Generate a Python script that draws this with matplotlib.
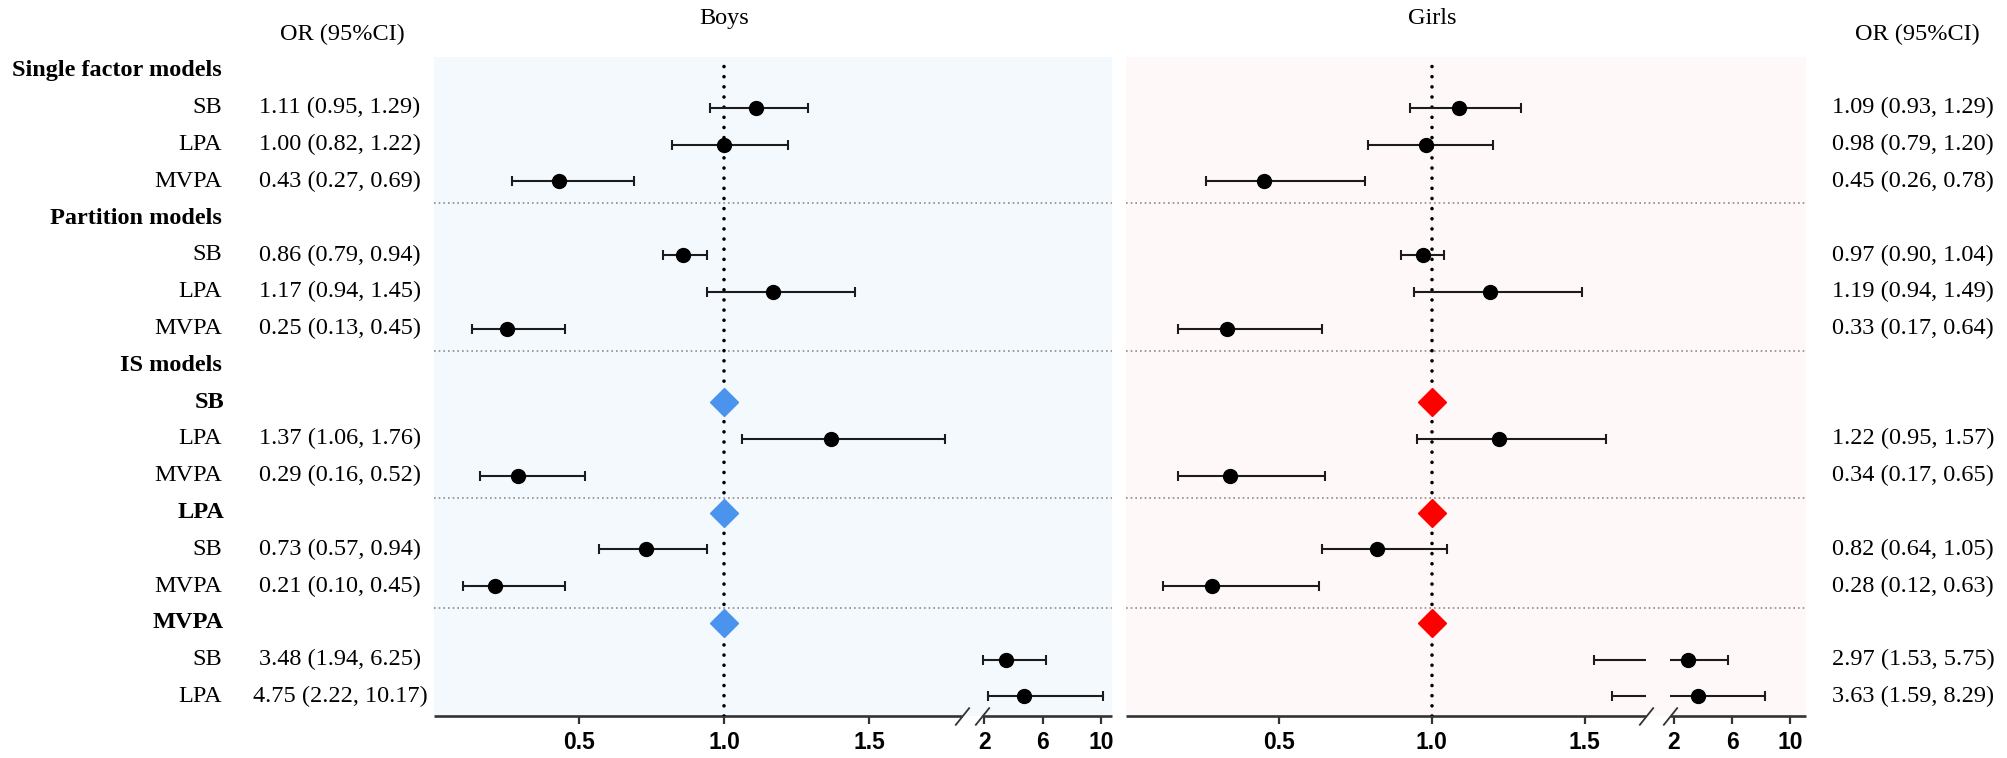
import numpy as np
import matplotlib
matplotlib.use("Agg")
import matplotlib.pyplot as plt
from matplotlib.path import Path

nan = np.nan

# ---------------- data ----------------
row_labels = ["Single factor models", "SB", "LPA", "MVPA",
              "Partition models", "SB", "LPA", "MVPA",
              "IS models", "SB", "LPA", "MVPA",
              "LPA", "SB", "MVPA",
              "MVPA", "SB", "LPA"]
row_kind = ["group", "item", "item", "item",
            "group", "item", "item", "item",
            "group", "ref", "item", "item",
            "ref", "item", "item",
            "ref", "item", "item"]

boys_or = [nan, 1.11, 1.00, 0.43, nan, 0.86, 1.17, 0.25, nan, 1.00, 1.37, 0.29, 1.00, 0.73, 0.21, 1.00, 3.48, 4.75]
boys_lo = [nan, 0.95, 0.82, 0.27, nan, 0.79, 0.94, 0.13, nan, nan, 1.06, 0.16, nan, 0.57, 0.10, nan, 1.94, 2.22]
boys_hi = [nan, 1.29, 1.22, 0.69, nan, 0.94, 1.45, 0.45, nan, nan, 1.76, 0.52, nan, 0.94, 0.45, nan, 6.25, 10.17]

girls_or = [nan, 1.09, 0.98, 0.45, nan, 0.97, 1.19, 0.33, nan, 1.00, 1.22, 0.34, 1.00, 0.82, 0.28, 1.00, 2.97, 3.63]
girls_lo = [nan, 0.93, 0.79, 0.26, nan, 0.90, 0.94, 0.17, nan, nan, 0.95, 0.17, nan, 0.64, 0.12, nan, 1.53, 1.59]
girls_hi = [nan, 1.29, 1.20, 0.78, nan, 1.04, 1.49, 0.64, nan, nan, 1.57, 0.65, nan, 1.05, 0.63, nan, 5.75, 8.29]

tick_vals = [0.5, 1.0, 1.5, 2, 6, 10]
tick_labels = ["0.5", "1.0", "1.5", "2", "6", "10"]
panel_titles = ["Boys", "Girls"]
header_text = "OR (95%CI)"

# ---------------- layout ----------------
W, H = 2007, 758
SERIF = "Liberation Serif"
SANS = "Liberation Sans"
FS = 17.5

fig = plt.figure(figsize=(W / 100, H / 100), dpi=100)


def rect(l, r, t, b):
    return [l / W, 1 - b / H, (r - l) / W, (b - t) / H]


# broken-axis scale knots (value -> pixel)
boys_scale = dict(xs=[0, 1.82, 1.84, 10, 10.77], ps=[434, 962, 982, 1101, 1112])
girls_scale = dict(xs=[0, 1.70, 1.72, 10, 11.1], ps=[1126, 1646, 1670, 1790, 1806])

axB = fig.add_axes(rect(434, 1112, 57, 716))
axG = fig.add_axes(rect(1126, 1806, 57, 716))

n = len(row_labels)
ys = np.arange(n)


def make_funcs(xs, ps):
    xs = np.asarray(xs, float)
    ps = np.asarray(ps, float)
    # extend linearly outside
    sl0 = (ps[1] - ps[0]) / (xs[1] - xs[0])
    sl1 = (ps[-1] - ps[-2]) / (xs[-1] - xs[-2])
    xe = np.concatenate([[xs[0] - 1000], xs, [xs[-1] + 1000]])
    pe = np.concatenate([[ps[0] - 1000 * sl0], ps, [ps[-1] + 1000 * sl1]])

    def fwd(x):
        return np.interp(x, xe, pe)

    def inv(p):
        return np.interp(p, pe, xe)
    return fwd, inv


def draw_panel(ax, sc, ors, los, his, bg, refcol, title):
    fwd, inv = make_funcs(sc["xs"], sc["ps"])
    ax.set_xscale("function", functions=(fwd, inv))
    xmax = sc["xs"][-1]
    b1, b2 = sc["xs"][1], sc["xs"][2]
    ax.set_xlim(0, xmax)
    ax.set_ylim(n - 1 + 0.53, -0.38)
    ax.set_facecolor(bg)
    for s in ax.spines.values():
        s.set_visible(False)
    ax.set_yticks([])
    ax.set_xticks(tick_vals)
    ax.set_xticklabels(tick_labels, fontfamily=SANS, fontweight="bold", fontsize=16.5)
    ax.tick_params(axis="x", direction="out", length=6, width=1.6, color="#333333", pad=5)

    # broken bottom axis line
    tr = ax.get_xaxis_transform()
    ax.plot([0, b1], [0, 0], color="#333333", lw=1.9, transform=tr, clip_on=False, solid_capstyle="butt")
    ax.plot([b2, xmax], [0, 0], color="#333333", lw=1.9, transform=tr, clip_on=False, solid_capstyle="butt")
    slash = Path([(-0.8, -1.0), (0.8, 1.0)], [Path.MOVETO, Path.LINETO])
    ax.plot([b1, b2], [0, 0], ls="none", marker=slash, ms=13, mew=1.3, mec="#333333",
            transform=tr, clip_on=False)

    # reference line
    ax.axvline(1.0, color="black", lw=2.6, ls=(0, (0.01, 2.8)), dash_capstyle="round", zorder=2)

    # separators between groups
    for i in range(1, n):
        if row_kind[i] in ("group", "ref") and row_kind[i - 1] != "group":
            ax.axhline(i - 0.4, color="#8c8c8c", lw=1.2, ls=(0, (1, 1.8)), zorder=1)

    for i in range(n):
        o, lo, hi = ors[i], los[i], his[i]
        if np.isnan(o):
            continue
        if row_kind[i] == "ref":
            ax.plot(o, i, marker="D", ms=14, color=refcol, ls="none", zorder=6)
            continue
        segs = []
        if lo < b1:
            segs.append((lo, min(hi, b1)))
        if hi > b2:
            segs.append((max(lo, b2), hi))
        for a, c in segs:
            ax.plot([a, c], [i, i], color="#1c1c1c", lw=1.5, zorder=4, solid_capstyle="butt")
        ax.plot([lo, hi], [i, i], ls="none", marker="|", ms=7.5, mew=1.5, color="#1c1c1c", zorder=4)
        ax.plot(o, i, marker="o", ms=10, color="black", ls="none", zorder=5)

    ax.text(1.0, -1.42, title, ha="center", va="center", fontfamily=SERIF, fontsize=FS,
            clip_on=False)


draw_panel(axB, boys_scale, boys_or, boys_lo, boys_hi, "#F4F9FE", "#4A94EE", panel_titles[0])
draw_panel(axG, girls_scale, girls_or, girls_lo, girls_hi, "#FEF9F8", "#FF0000", panel_titles[1])


def fmt(o, lo, hi):
    return f"{o:.2f} ({lo:.2f}, {hi:.2f})"


trB = axB.get_yaxis_transform()
trG = axG.get_yaxis_transform()
wB = 1112 - 434
wG = 1806 - 1126
x_lab = (222 - 434) / wB
x_lab_ref = (224 - 434) / wB
x_orB = (340 - 434) / wB
x_hdB = (342 - 434) / wB
x_orG = (1913 - 1126) / wG
x_hdG = (1917 - 1126) / wG

for i in range(n):
    kind = row_kind[i]
    weight = "bold" if kind in ("group", "ref") else "normal"
    axB.text(x_lab_ref if kind == "ref" else x_lab, i, row_labels[i], transform=trB,
             ha="right", va="center", fontfamily=SERIF, fontsize=FS, fontweight=weight, clip_on=False)
    if kind == "item":
        axB.text(x_orB, i, fmt(boys_or[i], boys_lo[i], boys_hi[i]), transform=trB,
                 ha="center", va="center", fontfamily=SERIF, fontsize=FS, clip_on=False)
        axG.text(x_orG, i, fmt(girls_or[i], girls_lo[i], girls_hi[i]), transform=trG,
                 ha="center", va="center", fontfamily=SERIF, fontsize=FS, clip_on=False)

axB.text(x_hdB, -1.0, header_text, transform=trB, ha="center", va="center",
         fontfamily=SERIF, fontsize=FS, clip_on=False)
axG.text(x_hdG, -1.0, header_text, transform=trG, ha="center", va="center",
         fontfamily=SERIF, fontsize=FS, clip_on=False)

fig.savefig("out.png", dpi=100, facecolor="white")
